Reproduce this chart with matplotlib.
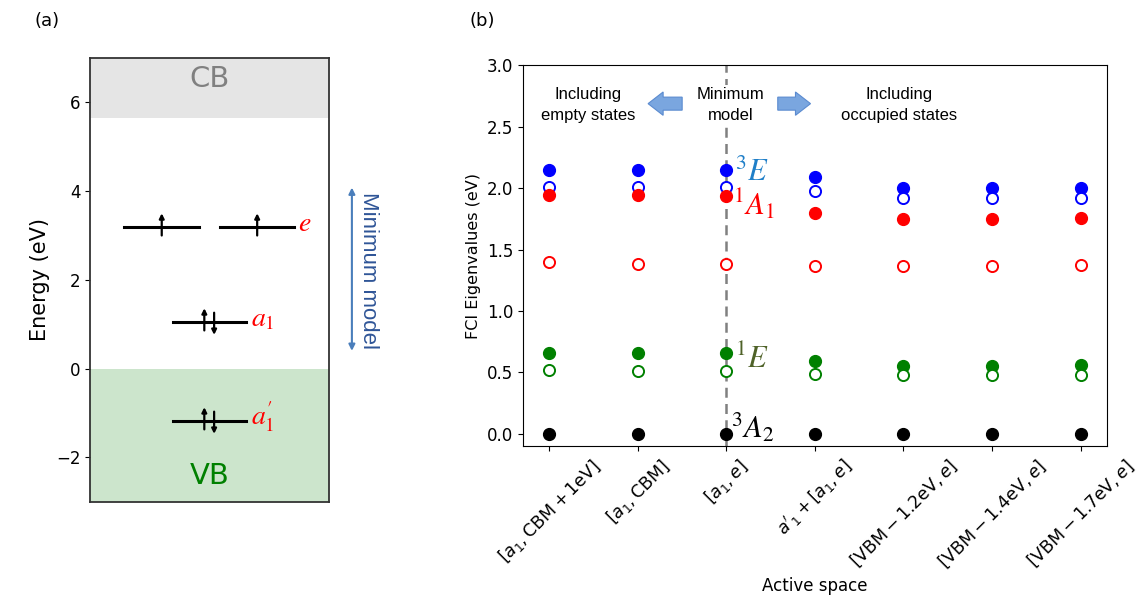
import numpy as np
import matplotlib
matplotlib.use("Agg")
import matplotlib.pyplot as plt
from matplotlib.patches import FancyArrow

# ---- (a) single-particle levels ----
level_names = [r"$e$", r"$a_1$", r"$a^{\prime}_1$"]
level_energy = [3.2, 1.06, -1.17]
cb_min = 5.64
vb_max = 0.0

# ---- (b) FCI eigenvalues per active space ----
active_spaces = [
    r"$[a_1, \mathrm{CBM} + 1\mathrm{eV}]$",
    r"$[a_1, \mathrm{CBM}]$",
    r"$[a_1, e]$",
    r"$a'_1 + [a_1, e]$",
    r"$[\mathrm{VBM} - 1.2\mathrm{eV}, e]$",
    r"$[\mathrm{VBM} - 1.4\mathrm{eV}, e]$",
    r"$[\mathrm{VBM} - 1.7\mathrm{eV}, e]$",
]
E3_filled = [2.15, 2.15, 2.15, 2.09, 2.00, 2.00, 2.00]
E3_open = [2.01, 2.01, 2.01, 1.98, 1.92, 1.92, 1.92]
A1_filled = [1.94, 1.94, 1.935, 1.80, 1.75, 1.75, 1.76]
A1_open = [1.395, 1.385, 1.38, 1.365, 1.365, 1.365, 1.375]
E1_filled = [0.655, 0.655, 0.655, 0.59, 0.555, 0.555, 0.56]
E1_open = [0.52, 0.515, 0.515, 0.49, 0.475, 0.475, 0.48]
A2_ground = [0.0, 0.0, 0.0, 0.0, 0.0, 0.0, 0.0]
minimum_idx = 2

fig = plt.figure(figsize=(11.39, 5.98), dpi=100)

# -----------------------
# (a) level diagram
# -----------------------
ax_a = fig.add_axes([0.079, 0.161, 0.210, 0.742])
ax_a.set_xlim(0, 1)
ax_a.set_ylim(-3, 7)
ax_a.axhspan(cb_min, 7, color="gray", alpha=0.2, lw=0)
ax_a.axhspan(-3, vb_max, color="green", alpha=0.2, lw=0)
ax_a.text(0.5, 6.53, "CB", color="gray", fontsize=21, ha="center", va="center")
ax_a.text(0.5, -2.42, "VB", color="green", fontsize=21, ha="center", va="center")

for spine in ax_a.spines.values():
    spine.set_color("#333333")
    spine.set_linewidth(1.3)
ax_a.set_xticks([])
ax_a.set_yticks([-2, 0, 2, 4, 6])
ax_a.set_yticklabels(["\u22122", "0", "2", "4", "6"])
ax_a.tick_params(axis="y", labelsize=12)
ax_a.set_ylabel("Energy (eV)", fontsize=15)

arrow_kw = dict(arrowstyle="-|>", color="k", lw=1.6, mutation_scale=7,
                shrinkA=0, shrinkB=0)


def spin(ax, x, e, up=True):
    if up:
        ax.annotate("", xy=(x, e + 0.3), xytext=(x, e - 0.2), arrowprops=arrow_kw)
    else:
        ax.annotate("", xy=(x, e - 0.3), xytext=(x, e + 0.2), arrowprops=arrow_kw)


# doubly degenerate e level, one electron in each
e_lvl = level_energy[0]
for x0, x1 in [(0.144, 0.456), (0.544, 0.854)]:
    ax_a.plot([x0, x1], [e_lvl, e_lvl], color="k", lw=2.2)
    spin(ax_a, (x0 + x1) / 2, e_lvl)

# a1 and a1' fully occupied
for e in level_energy[1:]:
    ax_a.plot([0.346, 0.653], [e, e], color="k", lw=2.2)
    spin(ax_a, 0.478, e, up=True)
    spin(ax_a, 0.519, e, up=False)

label_x = [0.87, 0.675, 0.675]
for name, e, lx in zip(level_names, level_energy, label_x):
    ax_a.text(lx, e + 0.08, name, color="red", fontsize=20, ha="left", va="center",
              math_fontfamily="stix")

ax_a.annotate("", xy=(1.095, 4.08), xytext=(1.095, 0.4),
              xycoords=("axes fraction", "data"),
              arrowprops=dict(arrowstyle="<|-|>", color="#4a7ebb", lw=1.5,
                              mutation_scale=9, shrinkA=0, shrinkB=0),
              annotation_clip=False)
ax_a.text(1.165, 2.22, "Minimum model", transform=ax_a.get_yaxis_transform(),
          rotation=-90, ha="center", va="center", color="#2f5597", fontsize=16,
          family="Liberation Sans", clip_on=False)

fig.text(0.041, 0.965, "(a)", fontsize=13, ha="center", va="center")
fig.text(0.423, 0.965, "(b)", fontsize=13, ha="center", va="center")

# -----------------------
# (b) FCI eigenvalues
# -----------------------
ax_b = fig.add_axes([0.459, 0.254, 0.513, 0.637])
x = np.arange(len(active_spaces))
ax_b.axvline(minimum_idx, color="gray", ls="--", lw=1.8, dashes=(4, 2.5), zorder=1)

ms = 8.5
open_kw = dict(ls="none", marker="o", ms=ms - 0.5, mfc="white", mew=1.4, zorder=3)
fill_kw = dict(ls="none", marker="o", ms=ms, zorder=3)

ax_b.plot(x, E3_filled, color="blue", **fill_kw)
ax_b.plot(x, E3_open, mec="blue", **open_kw)
ax_b.plot(x, A1_filled, color="red", **fill_kw)
ax_b.plot(x, A1_open, mec="red", **open_kw)
ax_b.plot(x, E1_filled, color="green", **fill_kw)
ax_b.plot(x, E1_open, mec="green", **open_kw)
ax_b.plot(x, A2_ground, color="black", **fill_kw)

ax_b.set_xlim(-0.3, len(active_spaces) - 0.7)
ax_b.set_ylim(-0.1, 3.0)
ax_b.set_yticks(np.arange(0, 3.01, 0.5))
ax_b.set_xticks(x)
ax_b.set_xticklabels(active_spaces, rotation=45)
ax_b.tick_params(axis="y", labelsize=12)
ax_b.tick_params(axis="x", labelsize=12.5)
ax_b.set_xlabel("Active space", fontsize=12)
ax_b.set_ylabel("FCI Eigenvalues (eV)", fontsize=11.5)

state_kw = dict(fontsize=22, ha="left", va="center", math_fontfamily="stix", zorder=4)
ax_b.text(2.1, 2.13, r"$^3E$", color="#1f7fc8", **state_kw)
ax_b.text(2.07, 1.87, r"$^1A_1$", color="red", **state_kw)
ax_b.text(2.1, 0.61, r"$^1E$", color="#4f6228", **state_kw)
ax_b.text(2.05, 0.05, r"$^3A_2$", color="black", **state_kw)

note_kw = dict(fontsize=12, ha="center", va="center", family="Liberation Sans",
               linespacing=1.5)
ax_b.text(0.44, 2.68, "Including\nempty states", **note_kw)
ax_b.text(2.05, 2.68, "Minimum\nmodel", zorder=2,
          bbox=dict(fc="white", ec="none", pad=1), **note_kw)
ax_b.text(3.95, 2.68, "Including\noccupied states", **note_kw)

block_kw = dict(width=0.106, head_width=0.19, head_length=0.17,
                length_includes_head=True, fc="#7aa6df", ec="#5b8bd0", lw=0.8)
ax_b.add_patch(FancyArrow(1.5, 2.687, -0.385, 0, **block_kw))
ax_b.add_patch(FancyArrow(2.58, 2.687, 0.37, 0, **block_kw))

fig.savefig("out.png", dpi=100)
